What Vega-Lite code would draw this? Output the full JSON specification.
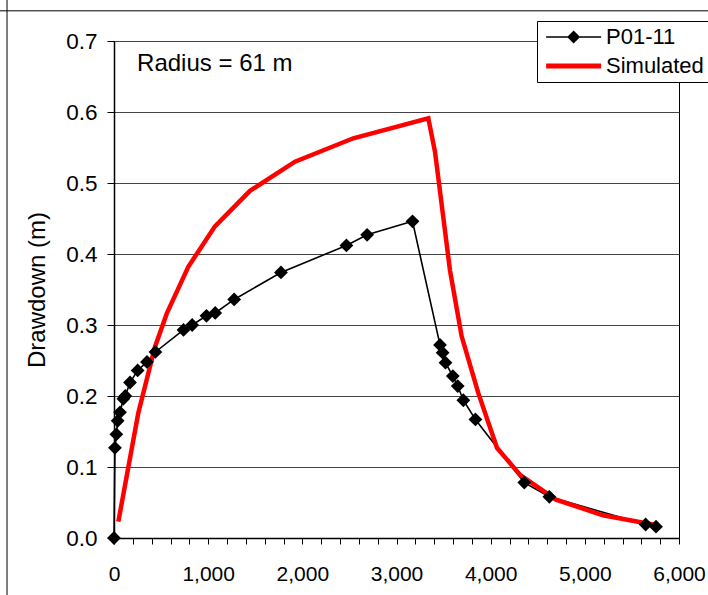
{
  "$schema": "https://vega.github.io/schema/vega-lite/v6.json",
  "autosize": "none",
  "padding": {"left": 114, "top": 41, "right": 29, "bottom": 57},
  "width": 565,
  "height": 497,
  "background": "white",
  "config": {
    "font": "Liberation Sans",
    "view": {"stroke": "black", "strokeWidth": 1},
    "axis": {"labelColor": "black", "titleColor": "black", "tickColor": "black", "domainColor": "black", "labelFont": "Liberation Sans", "titleFont": "Liberation Sans", "titleFontWeight": "normal"}
  },
  "datasets": {
    "obs": [
      {"t": 0, "d": 0, "series": "P01-11"},
      {"t": 10, "d": 0.127, "series": "P01-11"},
      {"t": 25, "d": 0.146, "series": "P01-11"},
      {"t": 39, "d": 0.165, "series": "P01-11"},
      {"t": 64, "d": 0.177, "series": "P01-11"},
      {"t": 99, "d": 0.196, "series": "P01-11"},
      {"t": 120, "d": 0.2, "series": "P01-11"},
      {"t": 170, "d": 0.219, "series": "P01-11"},
      {"t": 251, "d": 0.236, "series": "P01-11"},
      {"t": 350, "d": 0.248, "series": "P01-11"},
      {"t": 440, "d": 0.262, "series": "P01-11"},
      {"t": 738, "d": 0.293, "series": "P01-11"},
      {"t": 830, "d": 0.3, "series": "P01-11"},
      {"t": 982, "d": 0.313, "series": "P01-11"},
      {"t": 1075, "d": 0.317, "series": "P01-11"},
      {"t": 1276, "d": 0.336, "series": "P01-11"},
      {"t": 1773, "d": 0.374, "series": "P01-11"},
      {"t": 2468, "d": 0.412, "series": "P01-11"},
      {"t": 2688, "d": 0.427, "series": "P01-11"},
      {"t": 3170, "d": 0.446, "series": "P01-11"},
      {"t": 3462, "d": 0.272, "series": "P01-11"},
      {"t": 3490, "d": 0.261, "series": "P01-11"},
      {"t": 3520, "d": 0.247, "series": "P01-11"},
      {"t": 3598, "d": 0.228, "series": "P01-11"},
      {"t": 3650, "d": 0.214, "series": "P01-11"},
      {"t": 3710, "d": 0.194, "series": "P01-11"},
      {"t": 3838, "d": 0.167, "series": "P01-11"},
      {"t": 4357, "d": 0.078, "series": "P01-11"},
      {"t": 4623, "d": 0.058, "series": "P01-11"},
      {"t": 5646, "d": 0.019, "series": "P01-11"},
      {"t": 5756, "d": 0.016, "series": "P01-11"}
    ],
    "sim": [
      {"t": 46, "d": 0.023},
      {"t": 258, "d": 0.176},
      {"t": 435, "d": 0.269},
      {"t": 560, "d": 0.316},
      {"t": 789, "d": 0.382},
      {"t": 1072, "d": 0.439},
      {"t": 1444, "d": 0.489},
      {"t": 1922, "d": 0.53},
      {"t": 2541, "d": 0.563},
      {"t": 3338, "d": 0.591},
      {"t": 3409, "d": 0.544},
      {"t": 3568, "d": 0.377},
      {"t": 3692, "d": 0.284},
      {"t": 3869, "d": 0.204},
      {"t": 4067, "d": 0.127},
      {"t": 4311, "d": 0.089},
      {"t": 4694, "d": 0.054},
      {"t": 5193, "d": 0.032},
      {"t": 5766, "d": 0.018}
    ],
    "note": [
      {"t": 245, "d": 0.667, "label": "Radius = 61 m"}
    ],
    "vframe": [
      {"t": -1136, "d": 0.76, "d2": -0.085}
    ],
    "hframe": [
      {"t": -1215, "t2": 6310, "d": 0.7425}
    ]
  },
  "resolve": {"scale": {"x": "shared", "y": "shared"}},
  "layer": [
    {
      "data": {"name": "hframe"},
      "mark": {"type": "rule", "color": "black", "strokeWidth": 1, "clip": false},
      "encoding": {
        "x": {
          "field": "t", "type": "quantitative",
          "scale": {"domain": [0, 6000], "nice": false, "zero": false},
          "axis": {
            "title": null,
            "values": [0, 200, 400, 600, 800, 1000, 1200, 1400, 1600, 1800, 2000, 2200, 2400, 2600, 2800, 3000, 3200, 3400, 3600, 3800, 4000, 4200, 4400, 4600, 4800, 5000, 5200, 5400, 5600, 5800, 6000],
            "tickCount": 100,
            "labelExpr": "datum.value % 1000 === 0 ? format(datum.value, ',') : ''",
            "grid": false,
            "tickSize": 6,
            "labelPadding": 19,
            "labelFontSize": 21,
            "labelFlush": false,
            "labelOverlap": false,
            "labelBound": false,
            "domainWidth": 1.5
          }
        },
        "x2": {"field": "t2"},
        "y": {
          "field": "d", "type": "quantitative",
          "scale": {"domain": [0, 0.7], "nice": false, "zero": false},
          "axis": {
            "title": "Drawdown (m)",
            "titleFontSize": 24,
            "titlePadding": 16,
            "values": [0, 0.1, 0.2, 0.3, 0.4, 0.5, 0.6, 0.7],
            "tickCount": 20,
            "format": ".1f",
            "grid": true,
            "gridColor": "#444444",
            "gridWidth": 1,
            "tickSize": 7,
            "labelPadding": 10,
            "labelFontSize": 22.5,
            "labelOverlap": false,
            "domainWidth": 1.5
          }
        }
      }
    },
    {
      "data": {"name": "vframe"},
      "mark": {"type": "rule", "color": "black", "strokeWidth": 1, "clip": false},
      "encoding": {
        "x": {"field": "t", "type": "quantitative"},
        "y": {"field": "d", "type": "quantitative"},
        "y2": {"field": "d2"}
      }
    },
    {
      "data": {"name": "obs"},
      "mark": {"type": "line", "color": "black", "strokeWidth": 1.6},
      "encoding": {
        "x": {"field": "t", "type": "quantitative"},
        "y": {"field": "d", "type": "quantitative"}
      }
    },
    {
      "data": {"name": "sim"},
      "mark": {"type": "line", "color": "#FF0000", "strokeWidth": 4.5},
      "encoding": {
        "x": {"field": "t", "type": "quantitative"},
        "y": {"field": "d", "type": "quantitative"}
      }
    },
    {
      "data": {"name": "obs"},
      "mark": {"type": "point", "shape": "diamond", "filled": true, "color": "black", "size": 190, "opacity": 1},
      "encoding": {
        "x": {"field": "t", "type": "quantitative"},
        "y": {"field": "d", "type": "quantitative"}
      }
    },
    {
      "data": {"name": "note"},
      "mark": {"type": "text", "align": "left", "baseline": "middle", "fontSize": 24, "color": "black"},
      "encoding": {
        "x": {"field": "t", "type": "quantitative"},
        "y": {"field": "d", "type": "quantitative"},
        "text": {"field": "label"}
      }
    },
    {
      "data": {"name": "obs"},
      "transform": [{"filter": "datum.t < 0"}],
      "mark": {"type": "point", "filled": true, "opacity": 1},
      "encoding": {
        "x": {"field": "t", "type": "quantitative"},
        "y": {"field": "d", "type": "quantitative"},
        "color": {
          "field": "series", "type": "nominal",
          "scale": {"domain": ["P01-11", "Simulated"], "range": ["#000000", "#FF0000"]},
          "legend": {
            "title": null,
            "orient": "none",
            "legendX": 423,
            "legendY": -20,
            "strokeColor": "black",
            "fillColor": "white",
            "padding": 5,
            "labelFontSize": 22,
            "labelColor": "black",
            "symbolSize": 189,
            "labelOffset": 42,
            "rowPadding": 7,
            "symbolStrokeWidth": 0,
            "symbolOpacity": 1
          }
        },
        "shape": {
          "field": "series", "type": "nominal",
          "scale": {"domain": ["P01-11", "Simulated"], "range": ["M-1,-0.11H7V0.11H-1Z M3,-0.95L3.95,0L3,0.95L2.05,0Z", "M-1,-0.36H7V0.36H-1Z"]},
          "legend": {
            "title": null,
            "orient": "none",
            "legendX": 423,
            "legendY": -20,
            "strokeColor": "black",
            "fillColor": "white",
            "padding": 5,
            "labelFontSize": 22,
            "labelColor": "black",
            "symbolSize": 189,
            "labelOffset": 42,
            "rowPadding": 7,
            "symbolStrokeWidth": 0,
            "symbolOpacity": 1
          }
        }
      }
    }
  ]
}
